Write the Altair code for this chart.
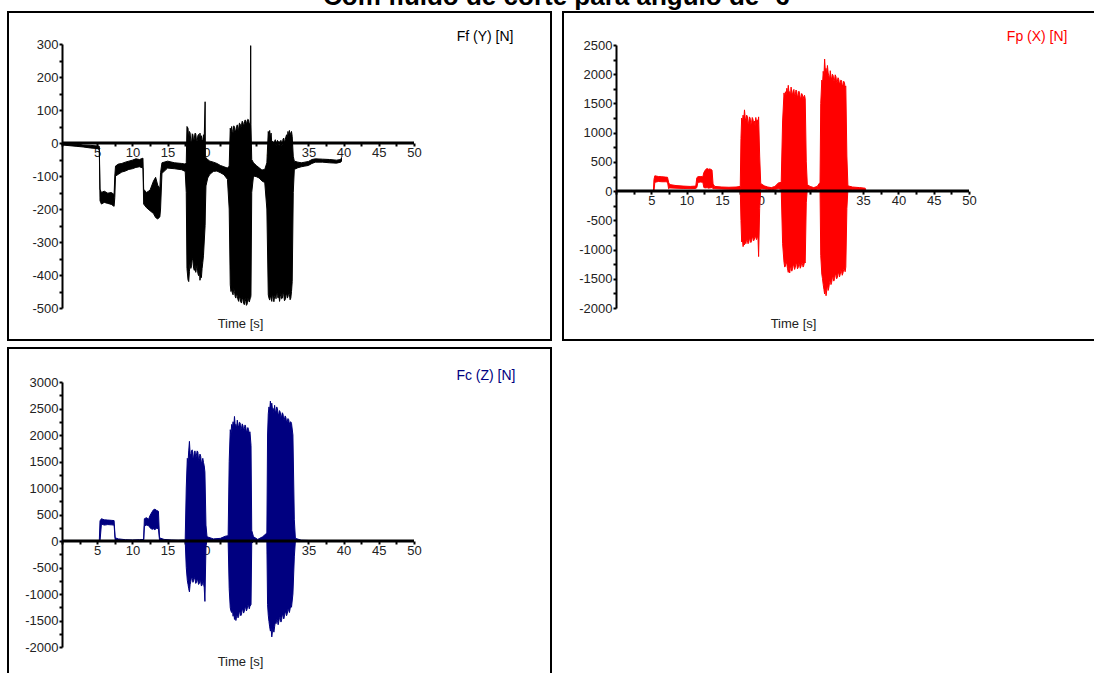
import altair as alt
import pandas as pd

FONT = "Liberation Sans"
LABEL_COLOR = "#222222"

chart_title = "Com fluido de corte para ângulo de -6°"
x_title = "Time [s]"
panel_titles = ["Ff (Y) [N]", "Fp (X) [N]", "Fc (Z) [N]"]
panel_colors = ["#000000", "#ff0000", "#000080"]

# tick values (time axis every 2.5 s, labelled every 5 s)
x_ticks = [i * 2.5 for i in range(21)]
ff_y_ticks = list(range(-500, 301, 50))
fp_y_ticks = list(range(-2000, 2501, 250))
fc_y_ticks = list(range(-2000, 3001, 250))

# signal envelopes: (time s, upper N, lower N)
ff_env = [
    (0, -1, -6), (1, -3, -8), (2, -4, -10), (3, -6, -12), (4, -7, -15), (5, -9, -17), (5.3, -10, -20),
    (5.4, -140, -175), (5.6, -150, -185), (6.0, -146, -180), (6.5, -152, -183), (7.0, -150, -186), (7.4, -156, -192),
    (7.5, -100, -165), (7.6, -70, -100), (8.0, -64, -95), (8.5, -62, -88), (9.0, -58, -85), (9.5, -55, -80),
    (10.0, -52, -78), (10.5, -48, -74), (11.0, -50, -72), (11.5, -46, -76),
    (11.6, -140, -185), (12.0, -150, -196), (12.5, -143, -205), (13.0, -115, -214), (13.3, -104, -226),
    (13.6, -128, -230), (13.9, -138, -224),
    (14.0, -90, -200), (14.2, -60, -92), (15.0, -55, -76), (16.0, -60, -78), (17.0, -62, -81), (17.5, -64, -86),
    (17.65, -60, -150), (17.75, 50, -380), (17.9, 45, -415), (18.0, 10, -420), (18.1, 35, -390), (18.2, 30, -360),
    (18.3, 5, -380), (18.4, 0, -372), (18.5, 28, -350), (18.6, 25, -355), (18.7, 2, -380), (18.8, 15, -386),
    (18.9, 30, -370), (19.0, 28, -392), (19.1, 8, -380), (19.2, 5, -370), (19.3, 22, -395), (19.4, 26, -402),
    (19.5, 10, -380), (19.6, 30, -416), (19.7, 12, -400), (19.8, 22, -408), (19.9, 5, -380), (20.0, 10, -362),
    (20.1, 25, -340), (20.2, 16, -300),
    (20.33, 125, -250), (20.37, -40, -200),
    (20.45, -45, -130), (20.7, -50, -106), (21.0, -55, -95), (21.5, -58, -86), (22.0, -62, -85), (22.5, -68, -90),
    (23.0, -72, -96), (23.5, -76, -110),
    (23.75, -70, -200), (23.9, 45, -430), (24.0, 30, -450), (24.1, 50, -442), (24.2, 35, -455), (24.3, 30, -460),
    (24.4, 52, -440), (24.5, 48, -450), (24.6, 30, -465), (24.7, 40, -470), (24.8, 50, -455), (24.9, 55, -464),
    (25.0, 38, -475), (25.1, 45, -480), (25.2, 60, -465), (25.3, 58, -470), (25.4, 45, -482), (25.5, 55, -485),
    (25.6, 66, -468), (25.7, 62, -474), (25.8, 50, -486), (25.9, 60, -490), (26.0, 70, -470), (26.1, 68, -480),
    (26.2, 55, -492), (26.3, 65, -488), (26.4, 72, -470), (26.5, 70, -476), (26.6, 58, -482), (26.75, 60, -470),
    (26.8, 295, -468), (26.84, 55, -462),
    (26.95, -50, -150), (27.2, -60, -100), (27.6, -68, -102), (28.0, -75, -106), (28.4, -82, -115), (28.8, -80, -120),
    (29.1, -60, -200),
    (29.3, 35, -460), (29.4, 20, -470), (29.5, 38, -476), (29.6, 15, -462), (29.7, 30, -470), (29.8, 0, -480),
    (29.9, 5, -455), (30.0, -10, -470), (30.1, -5, -481), (30.2, 5, -465), (30.3, 10, -460), (30.4, -8, -472),
    (30.5, 0, -446), (30.6, 8, -462), (30.7, 5, -470), (30.8, -5, -458), (30.9, -10, -480), (31.0, 5, -466),
    (31.1, 8, -455), (31.2, -8, -472), (31.3, -5, -470), (31.4, 12, -452), (31.5, 15, -460), (31.6, -2, -478),
    (31.7, 10, -475), (31.8, 18, -462), (31.9, 25, -455), (32.0, 12, -470), (32.1, 35, -466), (32.2, 20, -452),
    (32.3, 38, -460), (32.4, 25, -475), (32.5, 30, -470), (32.6, 35, -450), (32.7, 20, -420),
    (32.85, -40, -150), (33.0, -55, -80), (33.5, -58, -75), (34.0, -60, -72), (34.5, -58, -70), (35.0, -56, -68),
    (35.5, -50, -62), (36.0, -48, -58), (37.0, -49, -58), (38.0, -50, -60), (39.0, -52, -61), (39.6, -50, -58),
    (39.7, -44, -55),
]

fp_env = [
    (0, 8, -4), (5.3, 10, -4), (5.38, 200, 0), (5.5, 262, 150), (6.0, 250, 165), (6.5, 246, 160), (7.0, 240, 160),
    (7.3, 236, 155),
    (7.45, 150, 40), (7.6, 112, 55), (8.5, 95, 50), (9.5, 86, 45), (10.5, 80, 42), (11.3, 86, 45),
    (11.45, 230, 60), (11.6, 246, 150), (12.0, 250, 155), (12.3, 245, 150),
    (12.45, 320, 60), (12.7, 370, 55), (12.9, 386, 60), (13.1, 374, 50), (13.3, 380, 55), (13.6, 360, 60),
    (13.75, 120, 40), (14.0, 80, 40), (15.0, 70, 35), (16.0, 66, 32), (17.0, 70, 30), (17.6, 80, 30),
    (17.7, 900, -500), (17.8, 1250, -870), (17.9, 1180, -820), (18.0, 1300, -950), (18.1, 1220, -880),
    (18.2, 1390, -920), (18.3, 1250, -860), (18.4, 1200, -900), (18.5, 1300, -820), (18.6, 1280, -840),
    (18.7, 1150, -900), (18.8, 1180, -880), (18.9, 1270, -810), (19.0, 1250, -830), (19.1, 1140, -880),
    (19.2, 1170, -860), (19.3, 1260, -790), (19.4, 1230, -800), (19.5, 1150, -850), (19.6, 1200, -820),
    (19.7, 1120, -780), (19.8, 1260, -790), (19.9, 1180, -830), (20.0, 1220, -800), (20.1, 1150, -760),
    (20.2, 1270, -1120),
    (20.35, 600, -300), (20.5, 130, 40), (21.0, 90, 35), (21.5, 70, 30), (22.0, 60, 28), (22.5, 80, 30),
    (23.0, 140, 40), (23.4, 150, 30),
    (23.6, 1200, -900), (23.8, 1680, -1220), (23.9, 1600, -1300), (24.0, 1700, -1280), (24.1, 1640, -1200),
    (24.2, 1760, -1250), (24.3, 1660, -1330), (24.4, 1810, -1390), (24.5, 1690, -1300), (24.6, 1700, -1400),
    (24.7, 1620, -1320), (24.8, 1780, -1300), (24.9, 1680, -1370), (25.0, 1650, -1330), (25.1, 1720, -1250),
    (25.2, 1740, -1280), (25.3, 1620, -1340), (25.4, 1660, -1300), (25.5, 1730, -1230), (25.6, 1700, -1250),
    (25.7, 1600, -1330), (25.8, 1640, -1310), (25.9, 1710, -1240), (26.0, 1680, -1260), (26.1, 1590, -1320),
    (26.2, 1600, -1290), (26.3, 1670, -1220), (26.4, 1650, -1240), (26.5, 1570, -1300), (26.6, 1620, -1270),
    (26.7, 1640, -1210), (26.8, 1580, -1230),
    (26.95, 500, -200), (27.1, 110, 35), (27.5, 80, 30), (28.0, 60, 25), (28.5, 80, 30), (28.9, 150, 35),
    (29.0, 1500, -1100), (29.15, 1900, -1420), (29.25, 1820, -1500), (29.35, 2050, -1600), (29.45, 1950, -1680),
    (29.55, 2260, -1760), (29.65, 2050, -1650), (29.75, 2100, -1790), (29.85, 2000, -1700), (29.95, 2150, -1600),
    (30.05, 2020, -1700), (30.15, 1980, -1650), (30.25, 1900, -1560), (30.35, 2060, -1520), (30.45, 1950, -1600),
    (30.55, 1920, -1560), (30.65, 2000, -1480), (30.75, 1980, -1470), (30.85, 1880, -1540), (30.95, 1900, -1500),
    (31.05, 1990, -1440), (31.15, 1960, -1420), (31.25, 1860, -1500), (31.35, 1880, -1480), (31.45, 1940, -1400),
    (31.55, 1910, -1400), (31.65, 1830, -1470), (31.75, 1850, -1430), (31.85, 1900, -1360), (31.95, 1890, -1380),
    (32.05, 1800, -1440), (32.15, 1820, -1400), (32.25, 1880, -1340), (32.35, 1860, -1330), (32.45, 1780, -1380),
    (32.55, 1800, -1300),
    (32.7, 600, -300), (32.85, 90, 30), (33.5, 70, 25), (34.5, 60, 20), (35.3, 50, 15), (35.4, 10, 0),
]

fc_env = [
    (0, 10, -5), (5.3, 10, -5), (5.4, 380, 0), (5.6, 420, 320), (6.0, 400, 300), (6.5, 395, 310), (7.0, 390, 305),
    (7.4, 385, 300),
    (7.55, 60, 20), (8.0, 40, 10), (9.0, 25, 5), (10.0, 20, 5), (11.0, 25, 5), (11.6, 30, 5),
    (11.7, 420, 280), (12.0, 440, 300), (12.3, 410, 290), (12.5, 480, 250), (12.8, 550, 220), (13.0, 590, 230),
    (13.2, 600, 210), (13.4, 580, 240), (13.7, 560, 230),
    (13.85, 60, 20), (14.5, 30, 10), (15.5, 20, 5), (16.5, 15, 5), (17.5, 20, 5),
    (17.65, 1000, -500), (17.8, 1560, -740), (17.9, 1480, -820), (18.0, 1700, -900), (18.1, 1880, -960),
    (18.2, 1650, -820), (18.3, 1600, -760), (18.4, 1700, -680), (18.5, 1720, -700), (18.6, 1560, -780),
    (18.7, 1580, -740), (18.8, 1690, -690), (18.9, 1700, -720), (19.0, 1560, -800), (19.1, 1620, -780),
    (19.2, 1700, -720), (19.3, 1680, -750), (19.4, 1520, -820), (19.5, 1560, -800), (19.6, 1640, -740),
    (19.7, 1600, -770), (19.8, 1460, -850), (19.9, 1500, -830), (20.0, 1560, -760), (20.1, 1480, -800),
    (20.2, 1420, -880), (20.3, 1300, -1140),
    (20.45, 300, -100), (20.6, 80, 10), (21.5, 40, 5), (22.5, 50, 5), (23.2, 90, 10), (23.6, 100, 0),
    (23.75, 1500, -900), (23.9, 2100, -1260), (24.0, 2020, -1320), (24.1, 2200, -1350), (24.2, 2120, -1280),
    (24.3, 2250, -1420), (24.4, 2150, -1350), (24.5, 2350, -1480), (24.6, 2180, -1400), (24.7, 2200, -1500),
    (24.8, 2120, -1420), (24.9, 2280, -1390), (25.0, 2180, -1450), (25.1, 2150, -1420), (25.2, 2240, -1320),
    (25.3, 2230, -1350), (25.4, 2100, -1410), (25.5, 2130, -1380), (25.6, 2210, -1290), (25.7, 2180, -1300),
    (25.8, 2080, -1360), (25.9, 2120, -1320), (26.0, 2190, -1250), (26.1, 2150, -1260), (26.2, 2060, -1320),
    (26.3, 2080, -1280), (26.4, 2140, -1210), (26.5, 2100, -1220), (26.6, 2030, -1280), (26.7, 2060, -1230),
    (26.85, 1800, -1200),
    (26.95, 200, -50), (27.2, 80, 5), (27.8, 30, 5), (28.5, 80, 10), (29.1, 150, 0),
    (29.2, 2000, -1200), (29.3, 2400, -1400), (29.4, 2530, -1520), (29.5, 2450, -1620), (29.6, 2640, -1700),
    (29.7, 2520, -1640), (29.8, 2600, -1810), (29.9, 2480, -1700), (30.0, 2500, -1650), (30.1, 2420, -1720),
    (30.2, 2560, -1620), (30.3, 2440, -1520), (30.4, 2450, -1560), (30.5, 2530, -1480), (30.6, 2500, -1500),
    (30.7, 2380, -1580), (30.8, 2400, -1520), (30.9, 2460, -1440), (31.0, 2430, -1450), (31.1, 2330, -1530),
    (31.2, 2360, -1480), (31.3, 2420, -1390), (31.4, 2390, -1400), (31.5, 2280, -1470), (31.6, 2300, -1420),
    (31.7, 2360, -1340), (31.8, 2330, -1350), (31.9, 2240, -1410), (32.0, 2260, -1370), (32.1, 2310, -1290),
    (32.2, 2290, -1300), (32.3, 2200, -1350), (32.4, 2240, -1280), (32.5, 2250, -1220), (32.6, 2220, -1250),
    (32.8, 2000, -1000),
    (33.0, 400, -300), (33.15, 50, 0), (34.0, 15, 0), (35.0, 10, -5),
]

W, H = 1094, 673


def panel(env, color, title, y_ticks, label_step, x_range, y_range, title_right, title_y, time_xy):
    df = pd.DataFrame(env, columns=["t", "hi", "lo"])
    ymin, ymax = y_ticks[0], y_ticks[-1]
    zero_px = y_range[0] + (0 - ymin) / (ymax - ymin) * (y_range[1] - y_range[0])
    xs = alt.Scale(domain=[x_ticks[0], x_ticks[-1]], range=x_range, nice=False, zero=False)
    ys = alt.Scale(domain=[ymin, ymax], range=y_range, nice=False, zero=False)
    xa = alt.Axis(
        orient="bottom", offset=zero_px - H, values=x_ticks,
        labelExpr="datum.value % 5 === 0 && datum.value > 0 ? toString(datum.value) : ''",
        domain=False, grid=False, tickSize=3, tickWidth=2, tickColor="black",
        labelFont=FONT, labelFontSize=13, labelColor=LABEL_COLOR, labelPadding=0,
        labelFlush=False, labelOverlap=False,
        title=x_title, titleX=time_xy[0], titleY=time_xy[1] - zero_px, titleFont=FONT,
        titleFontSize=13, titleFontWeight="normal", titleColor=LABEL_COLOR, titleAngle=0,
        titleAlign="center", titleBaseline="middle",
    )
    ya = alt.Axis(
        orient="left", offset=-x_range[0], values=y_ticks,
        labelExpr="datum.value %% %d === 0 ? toString(datum.value) : ''" % label_step,
        domain=True, domainColor="black", domainWidth=2, grid=False,
        tickSize=3, tickWidth=2, tickColor="black",
        labelFont=FONT, labelFontSize=13, labelColor=LABEL_COLOR, labelPadding=1,
        labelOverlap=False, labelBaseline="middle",
        title=title, titleX=title_right - x_range[0], titleY=title_y, titleFont=FONT,
        titleFontSize=14, titleFontWeight="normal", titleColor=color, titleAngle=0,
        titleAlign="right", titleBaseline="middle",
    )
    area = alt.Chart(df).mark_area(color=color, stroke=color, strokeWidth=1, interpolate="linear").encode(
        x=alt.X("t:Q", scale=xs, axis=xa),
        y=alt.Y("hi:Q", scale=ys, axis=ya),
        y2="lo:Q",
    )
    zero_line = alt.Chart(
        alt.Data(values=[{"t": x_ticks[0], "t2": x_ticks[-1], "v": 0}])
    ).mark_rule(color="black", strokeWidth=3).encode(
        x=alt.X("t:Q", scale=xs, axis=xa),
        x2="t2:Q",
        y=alt.Y("v:Q", scale=ys, axis=ya),
    )
    return alt.layer(area, zero_line)


def frame(x1, x2, y1, y2):
    return alt.Chart(alt.Data(values=[{}])).mark_rect(
        filled=False, stroke="black", strokeWidth=2
    ).encode(x=alt.value(x1), x2=alt.value(x2), y=alt.value(y1), y2=alt.value(y2))


heading = alt.Chart(alt.Data(values=[{}])).mark_text(
    text=chart_title, font=FONT, fontSize=26, fontWeight="bold", color="black",
    align="left", baseline="alphabetic",
).encode(x=alt.value(323), y=alt.value(5))

frames = alt.layer(
    heading,
    frame(8, 551, 12, 340),
    frame(563, 1100, 12, 340),
    frame(8, 551, 348, 690),
)

p1 = panel(ff_env, panel_colors[0], panel_titles[0], ff_y_ticks, 100,
           [62, 414], [308, 44], 513, 36, (240, 323))
p2 = panel(fp_env, panel_colors[1], panel_titles[1], fp_y_ticks, 500,
           [616, 969], [308, 45], 1067, 36, (793, 323))
p3 = panel(fc_env, panel_colors[2], panel_titles[2], fc_y_ticks, 500,
           [62, 414], [647, 382], 515, 375, (240, 661))

chart = alt.layer(frames, p1, p2, p3).resolve_scale(
    x="independent", y="independent"
).resolve_axis(
    x="independent", y="independent"
).properties(
    width=W, height=H, padding=0,
    autosize=alt.AutoSizeParams(type="none"),
    background="white",
).configure_view(stroke=None)

chart.save("out.html", embed_options={"renderer": "svg", "actions": False})
